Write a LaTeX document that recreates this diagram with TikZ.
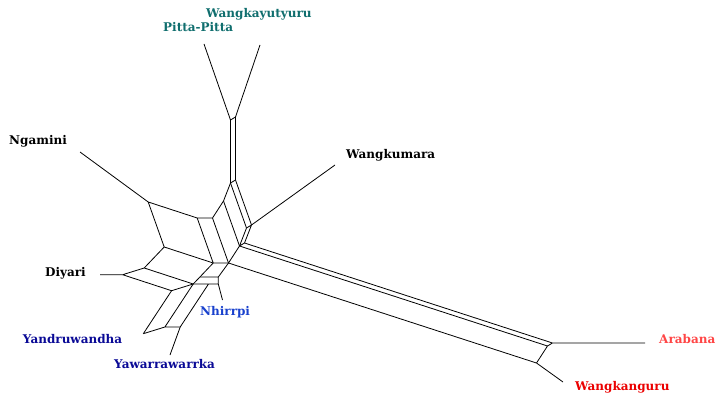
\documentclass[tikz,border=0pt]{standalone}
\usepackage{fontspec}
\newfontfamily\labelfont{DejaVu Serif}
\definecolor{tealname}{RGB}{16,110,110}
\definecolor{bluename}{RGB}{25,65,205}
\definecolor{navyname}{RGB}{10,10,150}
\definecolor{lightred}{RGB}{255,70,70}
\definecolor{redname}{RGB}{235,0,0}
\begin{document}
\begin{tikzpicture}[x=1pt,y=-1pt,
  edge/.style={line width=0.8pt,black},
  taxon/.style={font=\labelfont\bfseries\fontsize{12}{14}\selectfont,inner sep=0pt,anchor=base west}]
\useasboundingbox (0,0) rectangle (718,393);

% ---- network vertices ----
\coordinate (aPP) at (230.5,120);
\coordinate (aWY) at (235.5,117);
\coordinate (v1) at (230.5,183);
\coordinate (v2) at (235.5,180);
\coordinate (c1) at (223.5,201);
\coordinate (x1) at (212.5,218);
\coordinate (e1) at (197.2,218);
\coordinate (aNG) at (148.2,202);
\coordinate (d0) at (164.2,247);
\coordinate (d1) at (213.2,263);
\coordinate (l3s) at (228.5,263);
\coordinate (l2s) at (239.5,246);
\coordinate (w1) at (246.5,228);
\coordinate (aWM) at (251.5,225);
\coordinate (l1s) at (244.5,243);
\coordinate (aAR) at (552.5,343);
\coordinate (l2e) at (547.5,346);
\coordinate (aWG) at (536.5,363);
\coordinate (r0) at (144.2,268);
\coordinate (aDI) at (122.6,274.7);
\coordinate (n1) at (171.6,290.7);
\coordinate (rf) at (193.2,284);
\coordinate (e2) at (164.9,327);
\coordinate (aYD) at (143.3,333.7);
\coordinate (aYW) at (180.2,327);
\coordinate (q1) at (208.5,284);
\coordinate (g1) at (199.9,277);
\coordinate (h1) at (218.3,277);
\coordinate (k1) at (218.3,284);

% ---- leaf ends ----
\coordinate (tPP) at (204,44);
\coordinate (tWY) at (260,45);
\coordinate (tWM) at (335,165);
\coordinate (tAR) at (645,343);
\coordinate (tWG) at (563,382);
\coordinate (tNG) at (80,152);
\coordinate (tDI) at (100,274.7);
\coordinate (tNH) at (222.5,300);
\coordinate (tYW) at (170,355);

% ---- edges ----
\draw[edge] (aPP) -- (aWY) (aPP) -- (v1) (aWY) -- (v2) (v1) -- (v2);
\draw[edge] (v1) -- (c1) -- (x1) -- (e1) -- (aNG);
\draw[edge] (v2) -- (aWM) (v1) -- (w1) (c1) -- (l2s) (x1) -- (l3s) (e1) -- (d1) (aNG) -- (d0);
\draw[edge] (w1) -- (aWM) (w1) -- (l2s) (aWM) -- (l1s) (l2s) -- (l1s);
\draw[edge] (l2s) -- (l3s) -- (d1) -- (d0);
\draw[edge] (l1s) -- (aAR) (l2s) -- (l2e) (l3s) -- (aWG) (aAR) -- (l2e) -- (aWG);
\draw[edge] (aDI) -- (r0) -- (d0) (aDI) -- (n1) (r0) -- (rf) (n1) -- (rf);
\draw[edge] (rf) -- (g1) -- (d1);
\draw[edge] (aYD) -- (n1) (aYD) -- (e2) (e2) -- (rf) (e2) -- (aYW) (aYW) -- (q1) (rf) -- (q1);
\draw[edge] (g1) -- (h1) -- (l3s) (h1) -- (k1) (q1) -- (k1);

% ---- pendant edges ----
\draw[edge] (aPP) -- (tPP) (aWY) -- (tWY) (aWM) -- (tWM) (aAR) -- (tAR)
  (aWG) -- (tWG) (aNG) -- (tNG) (aDI) -- (tDI) (k1) -- (tNH) (aYW) -- (tYW);

% ---- taxon labels ----
\node[taxon,text=tealname] (lWY) at (206,18) {Wangkayutyuru};
\node[taxon,text=tealname] (lPP) at (163,32) {Pitta-Pitta};
\node[taxon] (lNG) at (9,145) {Ngamini};
\node[taxon] (lWM) at (346,159) {Wangkumara};
\node[taxon] (lDI) at (45,276) {Diyari};
\node[taxon,text=bluename] (lNH) at (200,315) {Nhirrpi};
\node[taxon,text=navyname] (lYD) at (22.7,343) {Yandruwandha};
\node[taxon,text=navyname] (lYW) at (114,368) {Yawarrawarrka};
\node[taxon,text=lightred] (lAR) at (659,343) {Arabana};
\node[taxon,text=redname] (lWG) at (575,390) {Wangkanguru};
\end{tikzpicture}
\end{document}
